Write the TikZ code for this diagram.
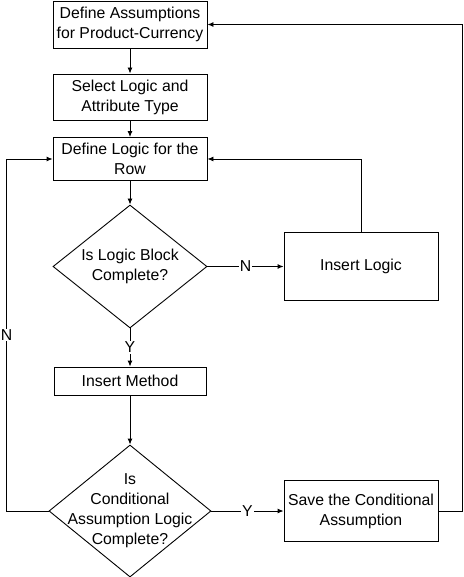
\documentclass[tikz,border=0pt]{standalone}
\usepackage{fontspec}
\setmainfont{Liberation Sans}
\usetikzlibrary{shapes.geometric,arrows.meta}

\begin{document}
\begin{tikzpicture}[x=1pt,y=-1pt,line width=0.9pt,>={Latex[length=6pt,width=5pt]},
					font=\fontsize{15.8}{20}\selectfont,
					box/.style={draw,rectangle,align=center,minimum width=154pt,inner sep=0pt},
					dia/.style={draw,diamond,inner sep=0pt},
					lbl/.style={fill=white,inner sep=1pt}]
					\useasboundingbox (0,0) rectangle (463,577);
					\node[box,minimum height=47pt] at (130,24.5)(a){Define Assumptions\\for Product-Currency};
					\node[box,minimum height=46pt] at (130,97)(b){Select Logic and\\Attribute Type};
					\node[box,minimum height=43pt] at (130,159)(c){Define Logic for the\\Row};
					\node[dia,minimum width=154pt,minimum height=123pt] at (130,266.5)(d){};
					\node[align=center] at (d){Is Logic Block\\Complete?};
					\node[box,minimum height=68pt] at (361,266.5)(e){Insert Logic};
					\node[box,minimum width=152pt,minimum height=28pt] at (130,381)(f){Insert Method};
					\node[dia,minimum width=162pt,minimum height=132pt] at (130,511)(g){};
					\node[align=center] at (g){Is\\Conditional\\Assumption Logic\\Complete?};
					\node[box,minimum height=61pt] at (361,511)(h){Save the Conditional\\Assumption};
					\draw[->] (a) -- (b);
					\draw[->] (b) -- (c);
					\draw[->] (c) -- (d);
					\draw[->] (d) -- node[lbl]{N} (e);
					\draw[->] (d) -- node[lbl]{Y} (f);
					\draw[->] (e) |- (c);
					\draw[->] (f) -- (g);
					\draw[->] (g) -- node[lbl]{Y} (h);
					\draw[->] (g.west) -- ++(-42,0) |- node[lbl,pos=0.25]{N} (c.west);
					\draw[->] (h.east) -- ++(24,0) |- (a.east);
				\end{tikzpicture}
\end{document}
